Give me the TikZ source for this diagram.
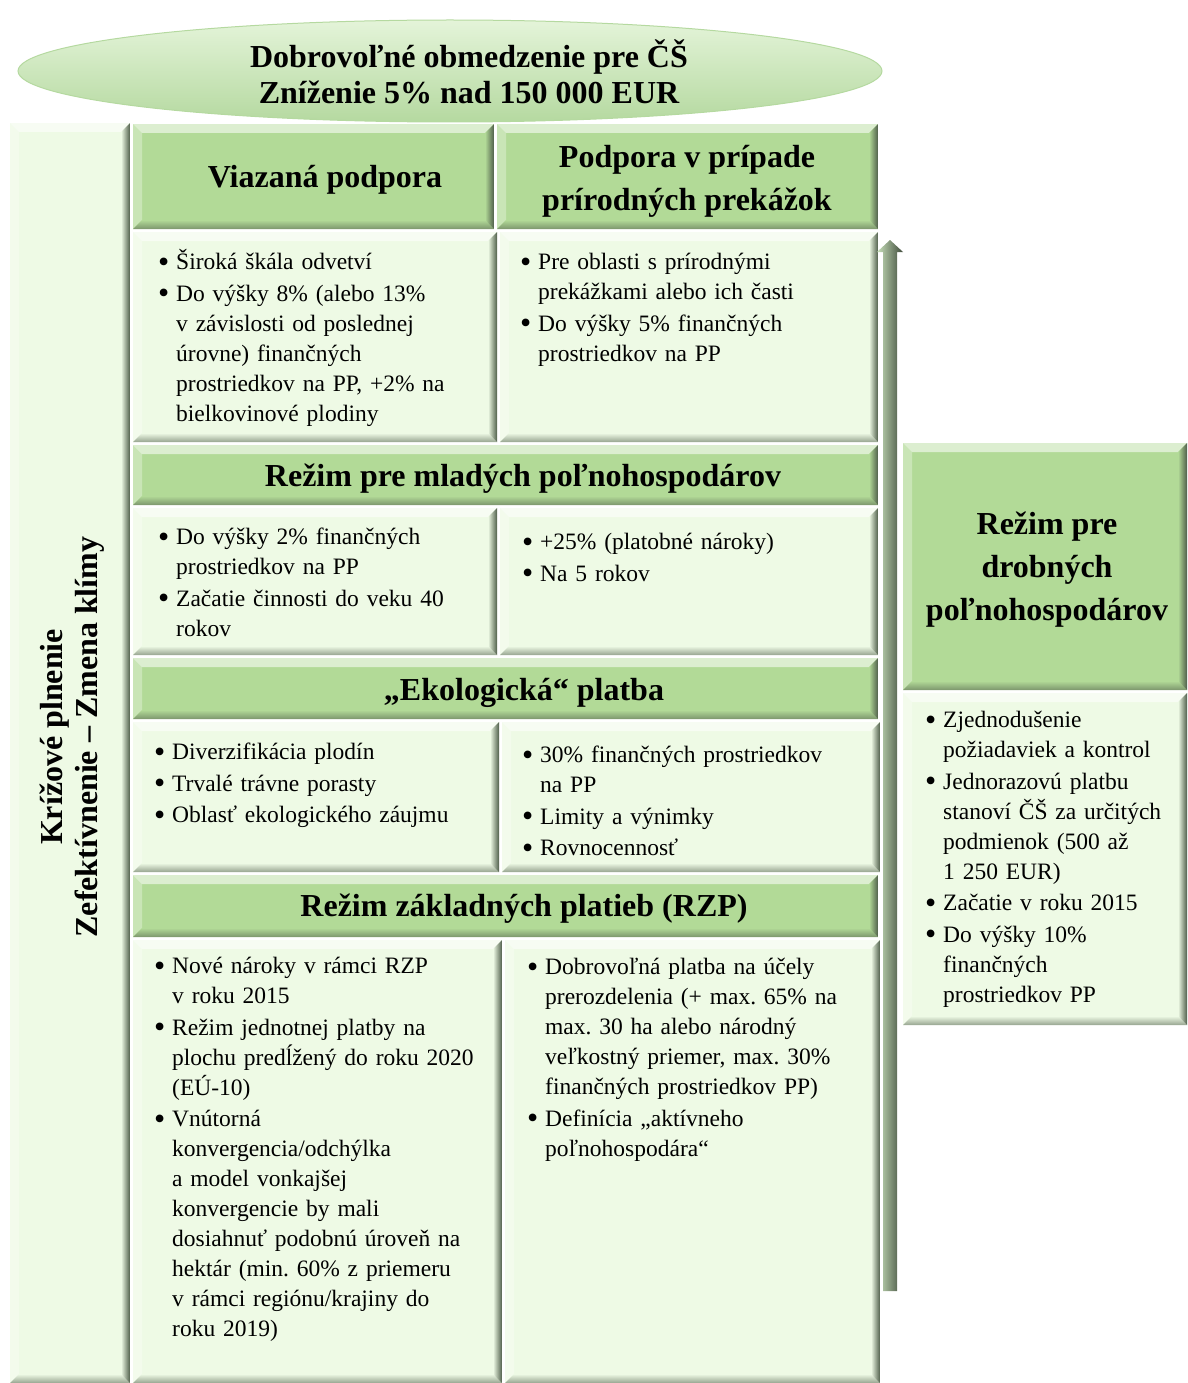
\documentclass[tikz,border=0pt]{standalone}
\usepackage{fontspec}
\setmainfont{Liberation Serif}
\usetikzlibrary{calc,shapes.geometric}
\frenchspacing

\definecolor{hdrg}{HTML}{B2DA97}
\definecolor{cntg}{HTML}{EEFAE5}
\definecolor{edgec}{HTML}{4F5E4A}
\definecolor{ellg}{HTML}{D2EAC1}
\definecolor{ellhi}{HTML}{E4F4D9}
\definecolor{elllo}{HTML}{B5D9A0}
\definecolor{arrL}{HTML}{C8E0BA}
\definecolor{arrM}{HTML}{9DB88F}
\definecolor{arrD}{HTML}{3F4B3B}

\def\bv{9}

\tikzset{
  bev/.style={draw=none, fill=#1, inner sep=0pt, outer sep=0pt, anchor=north west,
    path picture={
      \coordinate (pNW) at (path picture bounding box.north west);
      \coordinate (pNE) at (path picture bounding box.north east);
      \coordinate (pSW) at (path picture bounding box.south west);
      \coordinate (pSE) at (path picture bounding box.south east);
      \fill[white,opacity=.55] (pNW) -- (pNE) -- ($(pNE)+(-\bv,\bv)$) -- ($(pNW)+(\bv,\bv)$) -- cycle;
      \fill[white,opacity=.3] (pNW) -- ($(pNW)+(\bv,\bv)$) -- ($(pSW)+(\bv,-\bv)$) -- (pSW) -- cycle;
      \shade[top color=#1, bottom color=edgec!55!#1] (pSW) -- (pSE) -- ($(pSE)+(-\bv,-\bv)$) -- ($(pSW)+(\bv,-\bv)$) -- cycle;
      \shade[left color=#1, right color=edgec] (pNE) -- (pSE) -- ($(pSE)+(-\bv,-\bv)$) -- ($(pNE)+(-\bv,\bv)$) -- cycle;
    }},
  txt/.style={anchor=north west, inner sep=0pt, align=left, text width=#1,
    font=\fontsize{23.5}{30}\selectfont},
  hdr/.style={align=center, inner sep=0pt, font=\bfseries\fontsize{32}{43}\selectfont},
  ellbox/.style={ellipse, inner sep=0pt, top color=ellhi, middle color=ellg, bottom color=elllo,
    draw=elllo, line width=1pt},
  arrowshade/.style={left color=arrL, middle color=arrM, right color=arrD},
}

\newcommand\mybox[6]{\node[bev=#6, minimum width={(#4-#2)*1pt}, minimum height={(#5-#3)*1pt}] (#1) at (#2,#3) {};}
\newcommand\bi[1]{\par\setlength{\parskip}{1.5pt}\hangindent=18pt\hangafter=1\noindent\strut\makebox[18pt][l]{\raisebox{-2.5pt}{\fontsize{32}{30}\selectfont\textbullet}}#1\par}

\begin{document}
\begin{tikzpicture}[x=1pt,y=-1pt]
\useasboundingbox (0,0) rectangle (1187,1383);

% top ellipse
\node[ellbox, minimum width=864pt, minimum height=102pt] (ell) at (450,71) {};
\node[hdr, font=\bfseries\fontsize{32}{36}\selectfont] (title) at (469,72) {Dobrovoľné obmedzenie pre ČŠ\\Zníženie 5\% nad 150 000 EUR};

% left bar
\mybox{lbar}{10}{123}{130}{1383}{cntg}
\node[hdr, rotate=90, font=\bfseries\fontsize{32}{35}\selectfont] (vt) at (72,737) {Krížové plnenie\\Zefektívnenie – Zmena klímy};

% headers and contents
\mybox{h1}{133}{124}{494}{229}{hdrg}
\mybox{h2}{497}{124}{878}{229}{hdrg}
\mybox{c1}{133}{232}{497}{442}{cntg}
\mybox{c2}{500}{232}{878}{442}{cntg}
\mybox{h3}{133}{445}{878}{505}{hdrg}
\mybox{c3}{133}{508}{497}{655}{cntg}
\mybox{c4}{500}{508}{878}{655}{cntg}
\mybox{h4}{133}{658}{878}{719}{hdrg}
\mybox{c5}{133}{722}{499}{872}{cntg}
\mybox{c6}{502}{722}{880}{872}{cntg}
\mybox{h5}{133}{875}{878}{937}{hdrg}
\mybox{c7}{133}{940}{502}{1383}{cntg}
\mybox{c8}{505}{940}{880}{1383}{cntg}
\mybox{rh}{903}{443}{1187}{690}{hdrg}
\mybox{rc}{903}{693}{1187}{1025}{cntg}

% header texts
\node[hdr] (th1) at (325,180) {Viazaná podpora};
\node[hdr] (th2) at (687,181) {Podpora v prípade\\prírodných prekážok};
\node[hdr] (th3) at (523,479) {Režim pre mladých poľnohospodárov};
\node[hdr] (th4) at (524,693) {„Ekologická“ platba};
\node[hdr] (th5) at (524,909) {Režim základných platieb (RZP)};
\node[hdr] (thr) at (1047,570) {Režim pre\\drobných\\poľnohospodárov};

% content texts
\node[txt=330pt] (t1) at (158,238) {%
\bi{Široká škála odvetví}
\bi{Do výšky 8\% (alebo 13\%\newline v závislosti od poslednej\newline úrovne) finančných\newline prostriedkov na PP, +2\% na\newline bielkovinové plodiny}};

\node[txt=340pt] (t2) at (520,238) {%
\bi{Pre oblasti s prírodnými\newline prekážkami alebo ich časti}
\bi{Do výšky 5\% finančných\newline prostriedkov na PP}};

\node[txt=330pt] (t3) at (158,513) {%
\bi{Do výšky 2\% finančných\newline prostriedkov na PP}
\bi{Začatie činnosti do veku 40\newline rokov}};

\node[txt=340pt] (t4) at (522,518) {%
\bi{+25\% (platobné nároky)}
\bi{Na 5 rokov}};

\node[txt=340pt] (t5) at (154,728) {%
\bi{Diverzifikácia plodín}
\bi{Trvalé trávne porasty}
\bi{Oblasť ekologického záujmu}};

\node[txt=350pt] (t6) at (522,731) {%
\bi{30\% finančných prostriedkov\newline na PP}
\bi{Limity a výnimky}
\bi{Rovnocennosť}};

\node[txt=345pt] (t7) at (154,942) {%
\bi{Nové nároky v rámci RZP\newline v roku 2015}
\bi{Režim jednotnej platby na\newline plochu predĺžený do roku 2020\newline (EÚ-10)}
\bi{Vnútorná\newline konvergencia/odchýlka\newline a model vonkajšej\newline konvergencie by mali\newline dosiahnuť podobnú úroveň na\newline hektár (min. 60\% z priemeru\newline v rámci regiónu/krajiny do\newline roku 2019)}};

\node[txt=350pt] (t8) at (527,943) {%
\bi{Dobrovoľná platba na účely\newline prerozdelenia (+ max. 65\% na\newline max. 30 ha alebo národný\newline veľkostný priemer, max. 30\%\newline finančných prostriedkov PP)}
\bi{Definícia „aktívneho\newline poľnohospodára“}};

\node[txt=258pt] (tr) at (925,696) {%
\bi{Zjednodušenie\newline požiadaviek a kontrol}
\bi{Jednorazovú platbu\newline stanoví ČŠ za určitých\newline podmienok (500 až\newline 1 250 EUR)}
\bi{Začatie v roku 2015}
\bi{Do výšky 10\%\newline finančných\newline prostriedkov PP}};

% vertical arrow
\coordinate (arrB) at (890,1291);
\coordinate (arrT) at (890,240);
\shade[arrowshade] ($(arrB)+(-7,0)$) -- ($(arrT)+(-7,12)$) -- ($(arrT)+(-13,12)$) -- (arrT)
  -- ($(arrT)+(13,12)$) -- ($(arrT)+(7,12)$) -- ($(arrB)+(7,0)$) -- cycle;
\end{tikzpicture}
\end{document}
